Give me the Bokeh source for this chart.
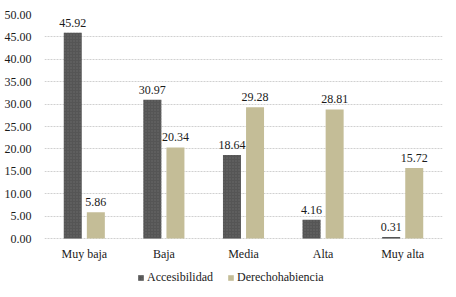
from bokeh.plotting import figure
from bokeh.models import ColumnDataSource, FactorRange, Legend, LegendItem, LabelSet, FixedTicker, NumeralTickFormatter
from bokeh.transform import dodge
from bokeh.embed import file_html
from bokeh.resources import INLINE

categories = ["Muy baja", "Baja", "Media", "Alta", "Muy alta"]
accesibilidad = [45.92, 30.97, 18.64, 4.16, 0.31]
derechohabiencia = [5.86, 20.34, 29.28, 28.81, 15.72]
series_names = ["Accesibilidad", "Derechohabiencia"]
y_ticks = [0, 5, 10, 15, 20, 25, 30, 35, 40, 45, 50]

src = ColumnDataSource(dict(
    cat=categories,
    acc=accesibilidad,
    der=derechohabiencia,
    zero=[0] * len(categories),
    acc_lbl=["%.2f" % v for v in accesibilidad],
    der_lbl=["%.2f" % v for v in derechohabiencia],
))

FONT = "Liberation Serif"
TXT = "#1a1a1a"

# frame: 224 px for 0..50 (4.48 px/unit); extended below 0 to hold category labels and legend
p = figure(x_range=FactorRange(*categories), y_range=(-59 / 4.48, 50),
           output_backend="svg", toolbar_location=None,
           min_border_left=44, min_border_right=14, min_border_top=14, min_border_bottom=0)
p.frame_width = 398
p.frame_height = 283
p.x_range.range_padding = 0
p.outline_line_color = None
p.border_fill_color = "white"
p.background_fill_color = "white"
p.xaxis.visible = False

w = 0.226
off = 0.145
r1 = p.vbar(x=dodge("cat", -off, range=p.x_range), top="acc", width=w, source=src,
            fill_color="#555555", line_color=None,
            hatch_pattern="dot", hatch_color="#6a6a6a", hatch_scale=3, hatch_weight=1)
r2 = p.vbar(x=dodge("cat", off, range=p.x_range), top="der", width=w, source=src,
            fill_color="#C4BD97", line_color=None)

for col, lbl, dx in (("acc", "acc_lbl", -off), ("der", "der_lbl", off)):
    ls = LabelSet(x=dodge("cat", dx, range=p.x_range), y=col, text=lbl, source=src,
                  text_align="center", text_baseline="bottom", y_offset=6,
                  text_font=FONT, text_font_size="12px", text_color=TXT)
    p.add_layout(ls)

# category labels under the 0 line
cat_labels = LabelSet(x="cat", y="zero", text="cat", source=src,
                      text_align="center", text_baseline="top", y_offset=-8,
                      text_font=FONT, text_font_size="12px", text_color=TXT)
p.add_layout(cat_labels)

p.yaxis.ticker = FixedTicker(ticks=y_ticks)
p.yaxis.formatter = NumeralTickFormatter(format="0.00")
p.yaxis.axis_line_color = None
p.yaxis.major_tick_line_color = None
p.yaxis.minor_tick_line_color = None
p.yaxis.major_label_text_font = FONT
p.yaxis.major_label_text_font_size = "12px"
p.yaxis.major_label_text_color = TXT
p.yaxis.major_label_standoff = 7

p.xgrid.grid_line_color = None
p.ygrid.grid_line_color = "#d0d0d0"
p.ygrid.grid_line_dash = "2 1"

legend = Legend(items=[LegendItem(label=series_names[0], renderers=[r1]),
                       LegendItem(label=series_names[1], renderers=[r2])],
                orientation="horizontal", location=(93, 12),
                label_text_font=FONT, label_text_font_size="12px", label_text_color=TXT,
                glyph_width=7, glyph_height=7, label_standoff=3, spacing=14,
                label_height=14, padding=0, margin=0, border_line_color=None,
                background_fill_alpha=0)
p.add_layout(legend)

open("out.html", "w").write(file_html(p, INLINE))
